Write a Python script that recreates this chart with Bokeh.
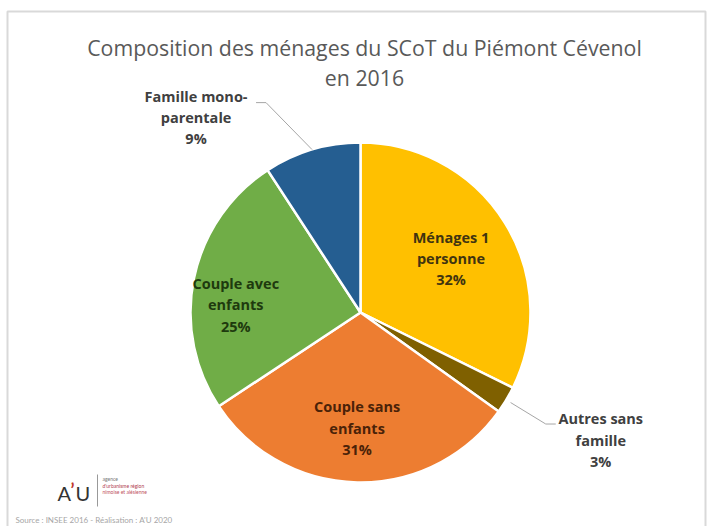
import math
from bokeh.plotting import figure
from bokeh.models import Range1d, ColumnDataSource
from bokeh.embed import file_html
from bokeh.resources import INLINE
from bokeh.core.properties import value

# ---------------- data ----------------
categories = ["Ménages 1\npersonne", "Autres sans\nfamille", "Couple sans\nenfants",
              "Couple avec\nenfants", "Famille mono-\nparentale"]
shares = [32.3, 2.6, 30.8, 25.1, 9.2]
pct_labels = ["32%", "3%", "31%", "25%", "9%"]
colors = ["#FFC000", "#7F6000", "#ED7D31", "#70AD47", "#255E91"]
text_colors = ["#3F3410", "#404040", "#4A2208", "#1E3A0E", "#404040"]
title_lines = ["Composition des ménages du SCoT du Piémont Cévenol", "en 2016"]
source_text = "Source : INSEE 2016 - Réalisation : A'U 2020"

# ---------------- layout ----------------
W, H = 707, 526
def X(rx):
    return rx
def Y(ry):
    return H - ry

cx, cy, R = X(360), Y(312), 170
# per-slice label placement (radius fraction, angular shift in degrees)
label_rf = [0.62, 1.60, 0.68, 0.735, 1.50]
label_shift = [1.0, -3.0, 0.6, -8.2, -23.6]

total = sum(shares)
starts, ends, mids = [], [], []
acc = 0.0
for s in shares:
    a0 = acc / total * 2 * math.pi
    acc += s
    a1 = acc / total * 2 * math.pi
    starts.append(a0); ends.append(a1); mids.append((a0 + a1) / 2)

def pt(theta, r):
    # theta clockwise from 12 o'clock
    return cx + r * math.sin(theta), cy + r * math.cos(theta)

p = figure(width=W, height=H, x_range=Range1d(0, W), y_range=Range1d(0, H),
           output_backend="svg", toolbar_location=None, min_border=0,
           background_fill_color="white", border_fill_color="white")
p.axis.visible = False
p.grid.visible = False
p.outline_line_color = None

# chart frame
p.line([X(7), X(7), X(705), X(705)], [0, Y(11), Y(11), 0], line_color="#D9D9D9", line_width=2)

# pie
src = ColumnDataSource(dict(
    start=[math.pi / 2 - e for e in ends],
    end=[math.pi / 2 - s for s in starts],
    color=colors))
p.wedge(x=cx, y=cy, radius=R, start_angle="start", end_angle="end",
        direction="anticlock", fill_color="color", line_color="white",
        line_width=2.5, source=src)

# labels
for i in range(len(shares)):
    th = mids[i] + math.radians(label_shift[i])
    lx, ly = pt(th, label_rf[i] * R)
    txt = categories[i] + "\n" + pct_labels[i]
    p.text(x=[lx], y=[ly], text=[txt], text_align="center", text_baseline="middle",
           text_font=value("Open Sans"), text_font_style="bold", text_font_size="14.5px",
           text_color=text_colors[i], text_line_height=1.12)

# leader lines for outside labels
# Famille mono-parentale
i = 4
ex, ey = pt(mids[i], R)
lx, ly = pt(mids[i] + math.radians(label_shift[i]), label_rf[i] * R)
p.line([ex, lx + 70, lx + 60], [ey, ly + 15, ly + 15], line_color="#A6A6A6", line_width=1)
# Autres sans famille
i = 1
ex, ey = pt(mids[i], R + 5)
lx, ly = pt(mids[i] + math.radians(label_shift[i]), label_rf[i] * R)
p.line([ex, lx - 55, lx - 45], [ey, ly + 16, ly + 16], line_color="#A6A6A6", line_width=1)

# title
for k, t in enumerate(title_lines):
    p.text(x=[X(364)], y=[Y(47 + 30 * k)], text=[t], text_align="center",
           text_baseline="middle", text_font=value("Open Sans"), text_font_size="21.3px",
           text_color="#595959")

# logo
p.text(x=[X(57)], y=[Y(492)], text=["A"], text_align="left", text_baseline="middle",
       text_font=value("Lato"), text_font_size="20px", text_color="#333333")
p.text(x=[X(70)], y=[Y(489)], text=["’"], text_align="left", text_baseline="middle",
       text_font=value("Lato"), text_font_size="18px", text_color="#C0392B", text_font_style="bold")
p.text(x=[X(75)], y=[Y(492)], text=["U"], text_align="left", text_baseline="middle",
       text_font=value("Lato"), text_font_size="20px", text_color="#333333")
p.line([X(97), X(97)], [Y(474), Y(506)], line_color="#999999", line_width=1)
p.text(x=[X(102)], y=[Y(478)], text=["agence"], text_align="left", text_baseline="middle",
       text_font=value("Lato"), text_font_size="5px", text_color="#777777")
p.text(x=[X(102)], y=[Y(485)], text=["d'urbanisme région"], text_align="left", text_baseline="middle",
       text_font=value("Lato"), text_font_size="5px", text_color="#B04050")
p.text(x=[X(102)], y=[Y(491)], text=["nîmoise et alésienne"], text_align="left", text_baseline="middle",
       text_font=value("Lato"), text_font_size="5px", text_color="#C05060")

# source
p.text(x=[X(15)], y=[Y(519)], text=[source_text], text_align="left", text_baseline="middle",
       text_font=value("Lato"), text_font_size="8px", text_color="#A6A6A6")

open("out.html", "w").write(file_html(p, INLINE))
